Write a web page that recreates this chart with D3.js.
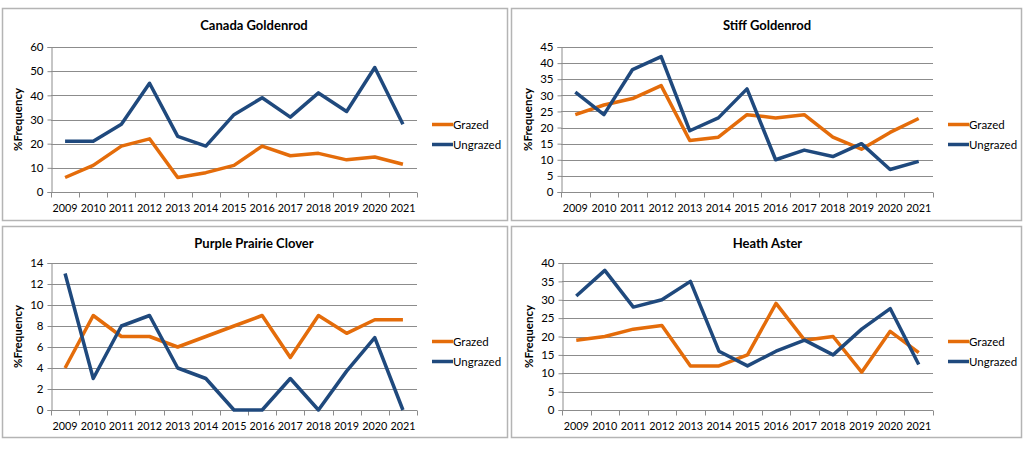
<!DOCTYPE html>
<html>
<head>
<meta charset="utf-8">
<script src="https://cdn.jsdelivr.net/npm/d3@7"></script>
<style>
  body { margin: 0; background: #fff; }
  text { font-family: "Lato", "Open Sans", sans-serif; fill: #000; }
</style>
</head>
<body>
<div id="vis"></div>
<script>
// data
var years = ["2009","2010","2011","2012","2013","2014","2015","2016","2017","2018","2019","2020","2021"];
var seriesNames = ["Grazed", "Ungrazed"];
var titles = ["Canada Goldenrod", "Stiff Goldenrod", "Purple Prairie Clover", "Heath Aster"];

var canadaGrazed   = [6, 11, 19, 22, 6, 8, 11, 19, 15, 16, 13.3, 14.5, 11.5];
var canadaUngrazed = [21, 21, 28, 45, 23, 19, 32, 39, 31, 41, 33.3, 51.5, 28];
var stiffGrazed    = [24, 27, 29, 33, 16, 17, 24, 23, 24, 17, 13.3, 18.5, 22.8];
var stiffUngrazed  = [31, 24, 38, 42, 19, 23, 32, 10, 13, 11, 15, 7, 9.5];
var cloverGrazed   = [4, 9, 7, 7, 6, 7, 8, 9, 5, 9, 7.3, 8.6, 8.6];
var cloverUngrazed = [13, 3, 8, 9, 4, 3, 0, 0, 3, 0, 3.7, 6.9, 0];
var asterGrazed    = [19, 20, 22, 23, 12, 12, 15, 29, 19, 20, 10.3, 21.4, 15.6];
var asterUngrazed  = [31, 38, 28, 30, 35, 16, 12, 16, 19, 15, 22, 27.6, 12.4];

var yMax = [60, 45, 14, 40];
var yStep = [10, 5, 2, 5];

var colors = ["#E46C0A", "#1F497D"];

// SVG geometry
var width = 1024, height = 449;

var svg = d3.select('#vis')
  .append("svg")
  .attr('width', width)
  .attr('height', height);

// panel boxes: x, y, w, h and plot area inside
var panels = [
  { x: 2,   y: 8,   w: 505, h: 212, plot: { l: 51,  r: 417, t: 47,  b: 192 } },
  { x: 511, y: 8,   w: 510, h: 212, plot: { l: 561, r: 933, t: 47,  b: 192 } },
  { x: 2,   y: 226, w: 505, h: 211, plot: { l: 51,  r: 417, t: 263, b: 410 } },
  { x: 511, y: 226, w: 510, h: 211, plot: { l: 562, r: 933, t: 263, b: 410 } }
];

var allData = [
  [canadaGrazed, canadaUngrazed],
  [stiffGrazed, stiffUngrazed],
  [cloverGrazed, cloverUngrazed],
  [asterGrazed, asterUngrazed]
];

panels.forEach(function(p, i) {
  var g = svg.append("g");

  g.append("rect")
    .attr("x", p.x + 0.5).attr("y", p.y + 0.5)
    .attr("width", p.w).attr("height", p.h)
    .attr("fill", "#fff")
    .attr("stroke", "#b4b4b4")
    .attr("stroke-width", 1.5);

  var x = d3.scaleBand()
    .domain(years)
    .range([p.plot.l, p.plot.r]);

  var y = d3.scaleLinear()
    .domain([0, yMax[i]])
    .range([p.plot.b, p.plot.t]);

  var ticks = d3.range(0, yMax[i] + 0.001, yStep[i]);

  // gridlines
  g.append("g")
    .selectAll("line")
    .data(ticks.filter(function(t) { return t > 0; }))
    .enter().append("line")
    .attr("x1", p.plot.l).attr("x2", p.plot.r)
    .attr("y1", function(d) { return Math.round(y(d)) + 0.5; })
    .attr("y2", function(d) { return Math.round(y(d)) + 0.5; })
    .attr("stroke", "#8c8c8c")
    .attr("stroke-width", 1);

  // y axis
  var yAxis = g.append("g")
    .attr("transform", "translate(" + (p.plot.l + 0.5) + ",0)")
    .call(d3.axisLeft(y).tickValues(ticks).tickSize(4).tickPadding(4));
  yAxis.selectAll("path, line").attr("stroke", "#8c8c8c");
  yAxis.selectAll("text").attr("font-size", 11.5).attr("fill", "#000")
    .style("font-family", "Lato, 'Open Sans', sans-serif");

  // x axis with ticks at category boundaries
  var xAxis = g.append("g")
    .attr("transform", "translate(0," + (Math.round(p.plot.b) + 0.5) + ")");
  xAxis.append("line")
    .attr("x1", p.plot.l).attr("x2", p.plot.r)
    .attr("stroke", "#8c8c8c");
  xAxis.selectAll(".bt")
    .data(years.concat(["end"]))
    .enter().append("line")
    .attr("class", "bt")
    .attr("x1", function(d, j) { return Math.round(p.plot.l + j * x.step()) + 0.5; })
    .attr("x2", function(d, j) { return Math.round(p.plot.l + j * x.step()) + 0.5; })
    .attr("y1", 0).attr("y2", 5)
    .attr("stroke", "#8c8c8c");
  xAxis.selectAll(".lab")
    .data(years)
    .enter().append("text")
    .attr("class", "lab")
    .attr("x", function(d) { return x(d) + x.bandwidth() / 2; })
    .attr("y", 19)
    .attr("text-anchor", "middle")
    .attr("font-size", 10.8)
    .text(function(d) { return d; });

  // title
  g.append("text")
    .attr("x", (p.plot.l + p.plot.r) / 2 + 20)
    .attr("y", p.y + 22)
    .attr("text-anchor", "middle")
    .attr("font-size", 13)
    .attr("font-weight", "bold")
    .text(titles[i]);

  // y axis title
  g.append("text")
    .attr("transform", "translate(" + (p.plot.l - 29) + "," + ((p.plot.t + p.plot.b) / 2) + ") rotate(-90)")
    .attr("text-anchor", "middle")
    .attr("font-size", 11.5)
    .attr("font-weight", "bold")
    .text("%Frequency");

  // lines
  var line = d3.line()
    .x(function(d, j) { return x(years[j]) + x.bandwidth() / 2; })
    .y(function(d) { return y(d); });

  allData[i].forEach(function(s, k) {
    g.append("path")
      .datum(s)
      .attr("fill", "none")
      .attr("stroke", colors[k])
      .attr("stroke-width", 3.5)
      .attr("stroke-linejoin", "round")
      .attr("d", line);
  });

  // legend
  var lx = p.plot.r + 15;
  var ly = (p.plot.t + p.plot.b) / 2 + 5;
  seriesNames.forEach(function(name, k) {
    var yy = ly + k * 20;
    g.append("line")
      .attr("x1", lx).attr("x2", lx + 21)
      .attr("y1", yy).attr("y2", yy)
      .attr("stroke", colors[k])
      .attr("stroke-width", 3.5);
    g.append("text")
      .attr("x", lx + 21)
      .attr("y", yy + 4)
      .attr("font-size", 11.5)
      .text(name);
  });
});
</script>
</body>
</html>
